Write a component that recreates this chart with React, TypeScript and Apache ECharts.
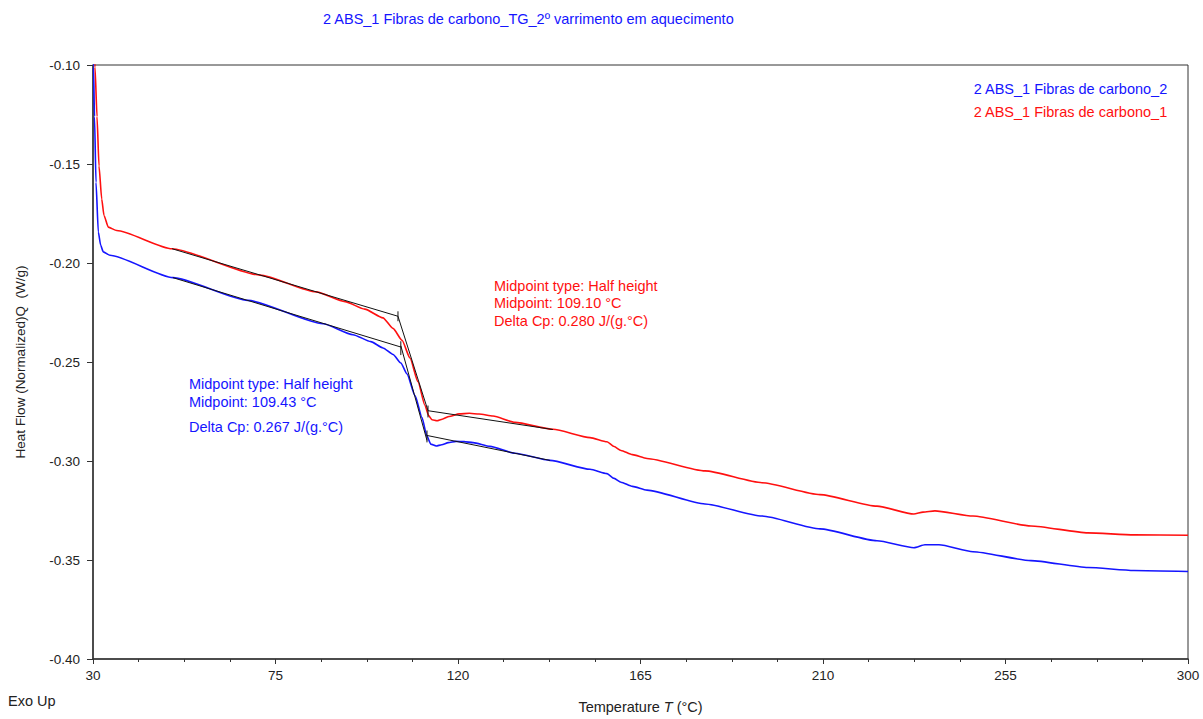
import React, { useEffect, useRef } from "react";
import * as echarts from "echarts";

// ---- Data ----
const TITLE = "2 ABS_1 Fibras de carbono_TG_2º varrimento em aquecimento";
const NAME_BLUE = "2 ABS_1 Fibras de carbono_2";
const NAME_RED = "2 ABS_1 Fibras de carbono_1";

const X_TICKS = [30, 75, 120, 165, 210, 255, 300];
const X_MINOR = [41.25, 52.5, 63.75, 86.25, 97.5, 108.75, 131.25, 142.5, 153.75, 176.25, 187.5, 198.75, 221.25, 232.5, 243.75, 266.25, 277.5, 288.75];

const T_RED = [30.3, 30.49, 30.99, 31.48, 32.15, 32.71, 33.77, 35.84, 49.48, 71.18, 85.0, 92.14, 97.0, 101.5, 103.97, 106.19, 108.16, 110.14, 111.86, 112.8, 113.6, 114.82, 116.1, 117.8, 120.3, 122.8, 125.2, 128.63, 134.05, 143.42, 152.55, 156.74, 158.5, 160.19, 163.0, 166.6, 180.9, 194.96, 209.26, 223.31, 232.4, 234.66, 237.6, 246.98, 261.28, 275.3, 286.7, 300];
const V_RED = [-0.09, -0.101, -0.126, -0.151, -0.1677, -0.176, -0.1819, -0.1836, -0.1928, -0.2061, -0.2146, -0.2195, -0.2233, -0.2277, -0.233, -0.239, -0.248, -0.26, -0.272, -0.2772, -0.2792, -0.2797, -0.2789, -0.2775, -0.2762, -0.2759, -0.2763, -0.2773, -0.2805, -0.2840, -0.2882, -0.2903, -0.2927, -0.2947, -0.2968, -0.2987, -0.305, -0.311, -0.317, -0.3228, -0.3268, -0.3258, -0.3252, -0.3278, -0.3328, -0.3363, -0.3373, -0.3375];

const T_BLUE = [30.05, 30.12, 30.37, 30.74, 31.31, 31.9, 32.54, 34.19, 49.73, 68.22, 86.71, 94.11, 98.5, 101.5, 104.0, 105.9, 107.42, 109.4, 111.12, 112.3, 113.3, 114.6, 116.0, 117.6, 119.5, 121.5, 123.7, 127.89, 134.05, 142.68, 152.55, 156.74, 158.5, 160.19, 163.0, 166.6, 180.9, 194.96, 209.26, 223.31, 232.43, 235.15, 238.6, 246.98, 261.28, 275.34, 286.68, 300];
const V_BLUE = [-0.09, -0.101, -0.126, -0.1593, -0.1844, -0.1911, -0.1944, -0.1961, -0.2074, -0.2189, -0.2307, -0.2362, -0.2397, -0.2429, -0.2462, -0.2505, -0.2560, -0.267, -0.278, -0.2872, -0.2915, -0.2924, -0.2918, -0.2907, -0.2901, -0.2902, -0.2907, -0.2926, -0.2961, -0.2997, -0.3042, -0.3064, -0.3088, -0.3107, -0.3128, -0.3147, -0.3217, -0.3278, -0.3343, -0.3403, -0.3438, -0.3423, -0.3423, -0.3458, -0.3503, -0.3538, -0.3553, -0.3558];

// Glass-transition construction lines: [T, value] pairs
const TAN_RED_PRE = [[49.5, -0.1928], [105.2, -0.2269]];
const TAN_RED_MID = [[105.2, -0.2269], [112.6, -0.2746]];
const TAN_RED_POST = [[112.6, -0.2746], [143.4, -0.2841]];
const TICK_RED_A = [[105.2, -0.2244], [105.2, -0.2294]];
const TICK_RED_B = [[112.6, -0.272], [112.6, -0.278]];

const TAN_BLUE_PRE = [[49.7, -0.2074], [106.0, -0.2425]];
const TAN_BLUE_MID = [[105.9, -0.2418], [112.35, -0.2896]];
const TAN_BLUE_POST = [[112.35, -0.2871], [142.7, -0.2997]];
const TICK_BLUE_A = [[105.9, -0.2395], [105.9, -0.2465]];
const TICK_BLUE_B = [[112.35, -0.2846], [112.35, -0.2906]];

const ANN_RED = ["Midpoint type: Half height", "Midpoint: 109.10 °C", "Delta Cp: 0.280 J/(g.°C)"];
const ANN_BLUE = ["Midpoint type: Half height", "Midpoint: 109.43 °C", "Delta Cp: 0.267 J/(g.°C)"];

const FONT = '"Liberation Sans", Arial, sans-serif';
const RED = "#ff1010";
const BLUE = "#1515ff";

export default function App() {
  const ref = useRef<HTMLDivElement>(null);
  useEffect(() => {
    if (!ref.current) return;
    const chart = echarts.init(ref.current, null, { renderer: "svg" });
    const zip = (t: number[], v: number[]) => t.map((x, i) => [x, v[i]]);
    const blackLine = (data: number[][]) => ({
      type: "line",
      data,
      symbol: "none",
      silent: true,
      lineStyle: { color: "#111", width: 1 },
      z: 3,
    });
    const annText = (lines: string[], x: number, ys: number[], color: string) =>
      lines.map((t, i) => ({
        type: "text",
        x,
        y: ys[i],
        style: { text: t, fill: color, font: `14.5px ${FONT}`, verticalAlign: "middle", align: "left" },
      }));
    chart.setOption({
      animation: false,
      backgroundColor: "#fff",
      title: {
        text: TITLE,
        left: 318,
        top: 6,
        textStyle: { fontSize: 14.5, fontWeight: "normal", color: BLUE, fontFamily: FONT },
      },
      legend: {
        orient: "vertical",
        right: 30,
        top: 76,
        itemWidth: 0,
        itemHeight: 0,
        itemGap: 8,
        icon: "rect",
        selectedMode: false,
        textStyle: { fontSize: 14.5, fontFamily: FONT },
        data: [
          { name: NAME_BLUE, textStyle: { color: BLUE } },
          { name: NAME_RED, textStyle: { color: RED } },
        ],
      },
      grid: {
        left: 93,
        right: 15,
        top: 65,
        bottom: 56,
        show: true,
        borderColor: "#333",
        borderWidth: 1,
      },
      xAxis: [
        {
          type: "value",
          min: 30,
          max: 300,
          name: "{n|Temperature }{i|T}{n| (°C)}",
          nameLocation: "middle",
          nameGap: 40,
          nameTextStyle: {
            rich: {
              n: { fontSize: 14.5, fontFamily: FONT, color: "#222" },
              i: { fontSize: 14.5, fontFamily: FONT, color: "#222", fontStyle: "italic" },
            },
          },
          axisLine: { show: true, lineStyle: { color: "#333", width: 1.5 } },
          axisTick: { show: true, length: 5, customValues: X_TICKS, lineStyle: { color: "#333" } },
          axisLabel: { customValues: X_TICKS, margin: 9, fontSize: 13.5, fontFamily: FONT, color: "#222" },
          splitLine: { show: false },
        },
        {
          type: "value",
          min: 30,
          max: 300,
          position: "bottom",
          axisLine: { show: false },
          axisTick: { show: true, length: 3, customValues: X_MINOR, lineStyle: { color: "#333" } },
          axisLabel: { show: false },
          splitLine: { show: false },
        },
      ],
      yAxis: {
        type: "value",
        min: -0.4,
        max: -0.1,
        interval: 0.05,
        name: "Heat Flow (Normalized)Q  (W/g)",
        nameLocation: "middle",
        nameGap: 66,
        nameTextStyle: { fontSize: 13.5, fontFamily: FONT, color: "#222" },
        axisLine: { show: true, lineStyle: { color: "#333", width: 1.5 } },
        axisTick: { show: true, length: 6, lineStyle: { color: "#333" } },
        axisLabel: {
          margin: 13,
          fontSize: 13.5,
          fontFamily: FONT,
          color: "#222",
          formatter: (v: number) => v.toFixed(2),
        },
        splitLine: { show: false },
      },
      series: [
        {
          name: NAME_BLUE,
          type: "line",
          data: zip(T_BLUE, V_BLUE),
          symbol: "none",
          smooth: 0.2,
          smoothMonotone: "x",
          lineStyle: { color: BLUE, width: 1.6 },
          itemStyle: { color: BLUE },
          z: 2,
        },
        {
          name: NAME_RED,
          type: "line",
          data: zip(T_RED, V_RED),
          symbol: "none",
          smooth: 0.2,
          smoothMonotone: "x",
          lineStyle: { color: RED, width: 1.6 },
          itemStyle: { color: RED },
          z: 2,
        },
        blackLine(TAN_RED_PRE),
        blackLine(TAN_RED_MID),
        blackLine(TAN_RED_POST),
        blackLine(TICK_RED_A),
        blackLine(TICK_RED_B),
        blackLine(TAN_BLUE_PRE),
        blackLine(TAN_BLUE_MID),
        blackLine(TAN_BLUE_POST),
        blackLine(TICK_BLUE_A),
        blackLine(TICK_BLUE_B),
      ],
      graphic: [
        ...annText(ANN_RED, 494, [286, 303, 321], RED),
        ...annText(ANN_BLUE, 189, [384, 402, 427], BLUE),
        {
          type: "text",
          x: 8,
          y: 701,
          style: { text: "Exo Up", fill: "#222", font: `14.5px ${FONT}`, verticalAlign: "middle" },
        },
      ],
    });
    return () => chart.dispose();
  }, []);
  return <div ref={ref} style={{ width: 1203, height: 719, position: "absolute", left: 0, top: 0 }} />;
}
